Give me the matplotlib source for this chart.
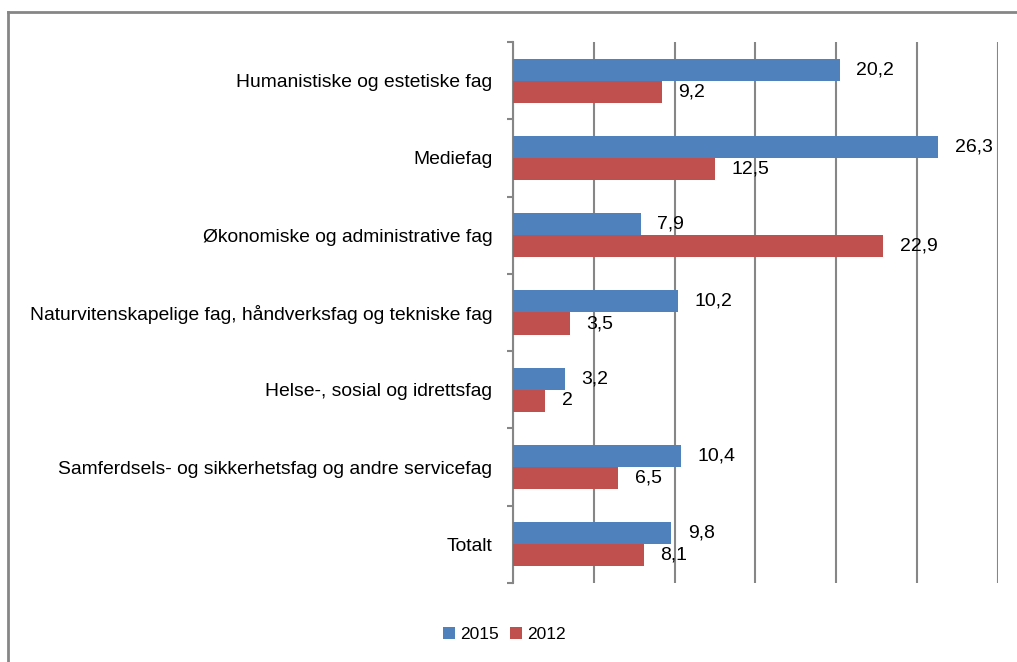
import numpy as np
import matplotlib.pyplot as plt
from matplotlib.lines import Line2D

plt.rcParams['font.family'] = ['Liberation Sans', 'DejaVu Sans']

kategorier = [
    "Humanistiske og estetiske fag",
    "Mediefag",
    "Økonomiske og administrative fag",
    "Naturvitenskapelige fag, håndverksfag og tekniske fag",
    "Helse-, sosial og idrettsfag",
    "Samferdsels- og sikkerhetsfag og andre servicefag",
    "Totalt",
]
verdier_2015 = [20.2, 26.3, 7.9, 10.2, 3.2, 10.4, 9.8]
verdier_2012 = [9.2, 12.5, 22.9, 3.5, 2, 6.5, 8.1]

blaa = '#4F81BD'
roed = '#C0504D'
graa = '#868686'

fig = plt.figure(figsize=(10.17, 6.62), dpi=100)
ax = fig.add_axes([0.5044, 0.1193, 0.4769, 0.8173])

y = np.arange(len(kategorier))
h = 0.285
b1 = ax.barh(y - h / 2, verdier_2015, height=h, color=blaa, label='2015', zorder=3)
b2 = ax.barh(y + h / 2, verdier_2012, height=h, color=roed, label='2012', zorder=3)

def fmt(v):
    return f"{v:g}".replace('.', ',')

ax.bar_label(b1, labels=[fmt(v) for v in verdier_2015], padding=12, fontsize=14)
ax.bar_label(b2, labels=[fmt(v) for v in verdier_2012], padding=12, fontsize=14)

ax.set_xlim(0, 30)
ax.set_xticks(np.arange(0, 31, 5))
ax.tick_params(axis='x', length=0, labelbottom=False)
ax.grid(axis='x', color=graa, linewidth=1.5, zorder=0)

ax.set_ylim(len(kategorier) - 0.5, -0.5)
ax.set_yticks(y)
ax.set_yticklabels(kategorier, fontsize=13.9)
ax.tick_params(axis='y', which='major', length=0, pad=15)
ax.set_yticks(np.arange(len(kategorier) + 1) - 0.5, minor=True)
ax.tick_params(axis='y', which='minor', length=4, width=1.5, color=graa)

for s in ['top', 'right', 'bottom']:
    ax.spines[s].set_visible(False)
ax.spines['left'].set_color(graa)
ax.spines['left'].set_linewidth(1.5)

fig.legend(loc='center', bbox_to_anchor=(0.496, 0.042), ncol=2, frameon=False,
           fontsize=12.5, handlelength=0.7, handleheight=0.7, handletextpad=0.3,
           columnspacing=0.6)

# ramme rundt diagrammet (venstre og topp)
fig.add_artist(Line2D([8 / 1017, 8 / 1017], [0, 1 - 12 / 662], color=graa, lw=2,
                      transform=fig.transFigure))
fig.add_artist(Line2D([8 / 1017, 1], [1 - 12 / 662, 1 - 12 / 662], color=graa, lw=2,
                      transform=fig.transFigure))

fig.savefig('out.png', dpi=100)
